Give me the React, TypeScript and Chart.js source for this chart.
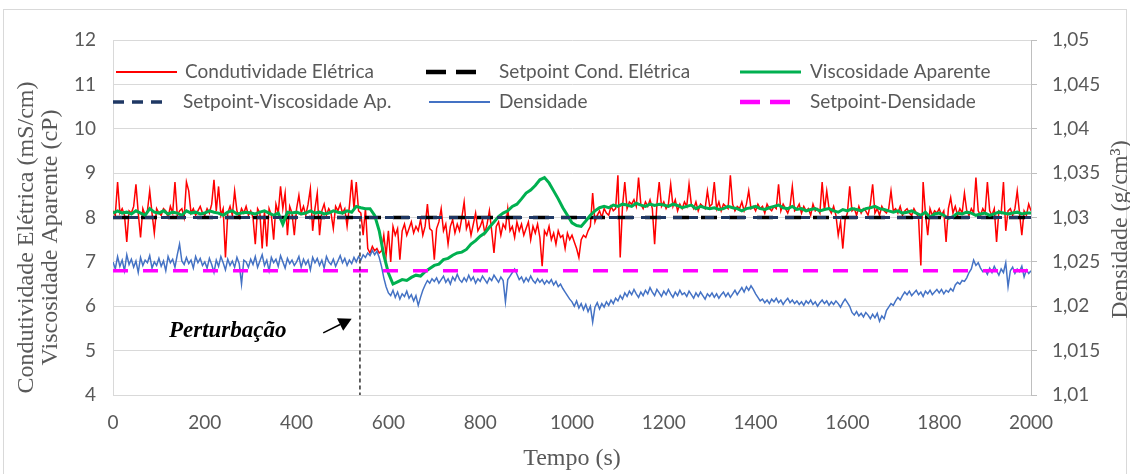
import React, { useEffect, useRef } from "react";
import { Chart, registerables } from "chart.js";

Chart.register(...registerables);

// ---------------- data ----------------
const tempoPassoRapido = 5; // s between samples (condutividade, densidade)
const tempoPassoLento = 10; // s between samples (viscosidade)
const tempoMin = 0;
const tempoMax = 2000;
const tempoPasso = 200;

const eixoEsqMin = 4;
const eixoEsqMax = 12;
const eixoEsqPasso = 1;
const eixoDirMin = 1.01;
const eixoDirMax = 1.05;
const eixoDirPasso = 0.005;

// Condutividade Elétrica (mS/cm), every 5 s from 0 to 2000 s
const condutividade = [
  8.15, 8.05, 8.8, 8.1, 8.2, 8.05, 7.45, 8.15, 8.1, 8.25, 8.75, 8.1, 7.55, 8.2, 8.05, 8.15, 8.6, 8.1, 7.65, 8.2,
  8.1, 8.05, 8.2, 8.15, 8.0, 8.25, 8.1, 8.8, 8.05, 8.15, 8.2, 8.0, 8.8, 8.6, 8.1, 8.2, 8.05, 8.15, 8.25, 8.1,
  8.05, 8.2, 8.1, 8.3, 8.85, 8.15, 8.7, 8.05, 8.2, 7.1, 8.1, 8.25, 8.05, 8.6, 8.15, 8.0, 8.2, 8.1, 8.25, 8.05,
  8.15, 8.0, 7.4, 8.2, 8.1, 7.3, 8.15, 7.35, 8.2, 8.05, 7.5, 8.3, 8.1, 8.7, 8.2, 8.55, 7.6, 8.25, 8.1, 7.6,
  8.2, 8.5, 8.1, 8.25, 8.05, 8.3, 8.65, 7.7, 8.2, 8.55, 7.6, 8.15, 8.3, 8.05, 8.2, 8.1, 7.75, 8.25, 8.15, 8.3,
  8.1, 8.2, 7.8, 8.25, 8.85, 8.2, 8.8, 8.15, 8.1, 7.6, 8.2, 7.3, 7.2, 7.35, 7.25, 7.3, 7.2, 7.25, 7.6, 7.15,
  7.7, 7.0, 7.8, 7.6, 7.75, 7.05, 7.7, 7.85, 7.6, 7.75, 7.9, 7.65, 7.8, 7.7, 7.95, 7.6, 7.8, 8.3, 7.75, 7.7,
  7.05, 7.75, 7.9, 8.2, 7.7, 7.85, 7.4, 7.8, 7.95, 7.65, 7.85, 7.7, 8.0, 8.35, 7.75, 7.9, 7.6, 7.85, 8.1, 7.7,
  7.8, 7.95, 7.65, 7.85, 8.15, 7.7, 7.2, 7.8, 7.9, 7.6, 7.85, 7.75, 8.2, 7.7, 7.8, 7.55, 7.9, 7.7, 7.85, 7.6,
  7.75, 7.9, 7.5, 7.8, 7.65, 7.85, 7.55, 6.9, 7.7, 7.6, 7.8, 7.5, 7.65, 7.4, 7.7, 7.55, 7.6, 7.3, 7.65, 7.5,
  7.6, 7.45, 7.3, 7.1, 7.5, 7.6, 7.55, 7.7, 7.8, 8.55, 7.9, 8.05, 8.15, 8.0, 8.2, 8.1, 8.05, 8.25, 8.15, 8.2,
  8.95, 7.1, 8.25, 8.8, 8.2, 8.35, 8.3, 8.4, 8.25, 8.9, 8.3, 8.2, 8.35, 8.25, 8.4, 8.2, 7.4, 8.3, 8.8, 8.25,
  8.35, 8.2, 8.3, 8.75, 8.25, 8.4, 8.15, 8.3, 8.2, 8.35, 8.25, 8.75, 8.3, 8.2, 8.35, 8.15, 8.3, 8.25, 8.2, 8.6,
  8.25, 8.3, 8.8, 8.2, 8.35, 8.15, 8.3, 8.25, 8.2, 8.95, 8.3, 8.15, 8.25, 8.2, 8.35, 8.15, 8.3, 8.6, 8.2, 8.25,
  8.15, 8.3, 8.2, 8.25, 8.1, 8.3, 8.2, 8.15, 8.25, 8.2, 8.75, 8.15, 8.3, 8.2, 8.1, 8.25, 8.7, 8.15, 8.2, 8.3,
  8.1, 8.25, 8.15, 8.2, 8.05, 8.3, 8.15, 8.2, 8.1, 8.8, 8.15, 8.6, 8.2, 8.1, 8.25, 8.05, 7.6, 7.9, 7.3, 7.95,
  8.1, 8.7, 8.15, 8.2, 8.05, 8.25, 8.1, 8.2, 8.15, 8.05, 8.3, 8.75, 8.1, 8.2, 8.05, 8.25, 8.15, 8.1, 8.2, 8.6,
  8.15, 8.2, 8.1, 8.25, 8.05, 8.15, 8.2, 8.1, 8.05, 8.2, 8.1, 8.0, 6.92, 8.8, 8.1, 7.6, 8.2, 8.05, 8.15, 8.1,
  8.2, 8.05, 8.15, 7.45, 8.2, 8.45, 8.1, 8.25, 8.05, 8.2, 8.1, 8.55, 8.15, 8.05, 8.2, 8.1, 8.9, 8.15, 8.05, 8.2,
  8.1, 8.8, 8.15, 8.05, 8.2, 7.45, 8.15, 8.1, 8.8, 7.7, 8.15, 8.2, 8.05, 8.2, 8.6, 8.1, 7.6, 8.15, 8.05, 8.3, 8.15,
];

// Viscosidade Aparente (cP), every 10 s from 0 to 2000 s
const viscosidade = [
  8.1, 8.15, 8.1, 8.12, 8.08, 8.15, 8.1, 8.05, 8.2, 8.12,
  8.1, 8.15, 8.08, 8.12, 8.1, 8.05, 8.15, 8.1, 8.12, 8.08,
  8.1, 8.15, 8.12, 8.1, 8.05, 8.12, 8.15, 8.08, 8.1, 8.12,
  8.1, 8.08, 8.12, 8.15, 8.1, 8.05, 8.1, 7.85, 8.12, 8.1,
  8.12, 8.08, 8.1, 8.15, 8.1, 8.12, 8.08, 8.1, 8.15, 8.12,
  8.1, 8.15, 8.12, 8.25, 8.22, 8.2, 8.2, 8.05, 7.7, 7.15,
  6.75, 6.5, 6.55, 6.6, 6.58, 6.65, 6.7, 6.68, 6.78, 6.85,
  6.92, 6.95, 7.05, 7.08, 7.15, 7.2, 7.22, 7.28, 7.4, 7.48,
  7.58, 7.65, 7.78, 7.9, 8.02, 8.1, 8.15, 8.25, 8.3, 8.42,
  8.55, 8.62, 8.72, 8.85, 8.9, 8.78, 8.6, 8.42, 8.22, 8.05,
  7.88, 7.82, 7.8, 7.92, 8.05, 8.15, 8.22, 8.25, 8.22, 8.28,
  8.25, 8.3, 8.28, 8.25, 8.32, 8.28, 8.25, 8.3, 8.27, 8.3,
  8.28, 8.25, 8.3, 8.27, 8.22, 8.25, 8.28, 8.2, 8.25, 8.22,
  8.2, 8.22, 8.18, 8.2, 8.25, 8.22, 8.2, 8.15, 8.2, 8.22,
  8.25, 8.2, 8.18, 8.22, 8.25, 8.28, 8.22, 8.2, 8.25, 8.18,
  8.2, 8.15, 8.18, 8.2, 8.15, 8.18, 8.2, 8.15, 8.12, 8.18,
  8.15, 8.2, 8.18, 8.15, 8.2, 8.22, 8.25, 8.2, 8.18, 8.15,
  8.12, 8.15, 8.1, 8.12, 8.15, 8.1, 8.05, 8.12, 8.0, 8.08,
  8.1, 8.05, 7.98, 8.02, 8.1, 8.08, 8.12, 8.1, 8.05, 8.08,
  8.1, 8.05, 8.08, 8.12, 8.1, 8.08, 8.1, 8.12, 8.08, 8.1, 8.1,
];

// Densidade (g/cm³), every 5 s from 0 to 2000 s
const densidade = [
  1.0250, 1.0242, 1.0256, 1.0245, 1.0252, 1.0240, 1.0258, 1.0247, 1.0253, 1.0244, 1.0251, 1.0238, 1.0255, 1.0246, 1.0252, 1.0249, 1.0257, 1.0243, 1.0250, 1.0246,
  1.0254, 1.0245, 1.0251, 1.0240, 1.0256, 1.0249, 1.0253, 1.0244, 1.0258, 1.0270, 1.0251, 1.0247, 1.0255, 1.0248, 1.0252, 1.0243, 1.0256, 1.0249, 1.0254, 1.0246,
  1.0250, 1.0243, 1.0254, 1.0247, 1.0238, 1.0252, 1.0245, 1.0256, 1.0249, 1.0241, 1.0253, 1.0246, 1.0251, 1.0244, 1.0255, 1.0248, 1.0225, 1.0252, 1.0250, 1.0244,
  1.0253, 1.0247, 1.0256, 1.0244, 1.0251, 1.0258, 1.0246, 1.0252, 1.0240, 1.0255, 1.0249, 1.0253, 1.0245, 1.0257, 1.0250, 1.0243, 1.0254, 1.0248, 1.0252, 1.0246,
  1.0250, 1.0256, 1.0244, 1.0253, 1.0247, 1.0252, 1.0241, 1.0255, 1.0249, 1.0254, 1.0246, 1.0252, 1.0243, 1.0256, 1.0250, 1.0247, 1.0253, 1.0245, 1.0251, 1.0257,
  1.0249, 1.0254, 1.0246, 1.0252, 1.0248, 1.0255, 1.0250, 1.0256, 1.0252, 1.0258, 1.0255, 1.0260, 1.0257, 1.0263, 1.0258, 1.0262, 1.0255, 1.0245, 1.0232, 1.0222,
  1.0215, 1.0212, 1.0218, 1.0210, 1.0216, 1.0208, 1.0214, 1.0211, 1.0217, 1.0209, 1.0213, 1.0206, 1.0212, 1.0201, 1.0210, 1.0218, 1.0224, 1.0229, 1.0226, 1.0231,
  1.0228, 1.0232, 1.0226, 1.0230, 1.0234, 1.0227, 1.0231, 1.0225, 1.0233, 1.0229, 1.0236, 1.0230, 1.0227, 1.0232, 1.0228, 1.0235, 1.0229, 1.0233, 1.0226, 1.0231,
  1.0228, 1.0234, 1.0230, 1.0226, 1.0232, 1.0229, 1.0235, 1.0231, 1.0227, 1.0233, 1.0229, 1.0205, 1.0230, 1.0234, 1.0238, 1.0242, 1.0236, 1.0230, 1.0233, 1.0227,
  1.0232, 1.0228, 1.0234, 1.0229, 1.0226, 1.0231, 1.0227, 1.0230, 1.0225, 1.0229, 1.0226, 1.0230, 1.0224, 1.0228, 1.0222, 1.0225, 1.0220, 1.0216, 1.0212, 1.0208,
  1.0205, 1.0200, 1.0206, 1.0198, 1.0203, 1.0196, 1.0202, 1.0194, 1.0200, 1.0182, 1.0199, 1.0204, 1.0197, 1.0203, 1.0199, 1.0205, 1.0201, 1.0207, 1.0203, 1.0209,
  1.0206, 1.0212, 1.0208, 1.0215, 1.0211, 1.0217, 1.0213, 1.0219, 1.0214, 1.0210, 1.0216, 1.0212, 1.0218, 1.0214, 1.0221, 1.0216, 1.0212, 1.0219, 1.0215, 1.0211,
  1.0217, 1.0213, 1.0219, 1.0214, 1.0210, 1.0216, 1.0212, 1.0218, 1.0213, 1.0215, 1.0211, 1.0217, 1.0213, 1.0209, 1.0215, 1.0211, 1.0216, 1.0212, 1.0208, 1.0214,
  1.0211, 1.0215, 1.0210, 1.0214, 1.0209, 1.0213, 1.0216, 1.0211, 1.0215, 1.0210, 1.0214, 1.0218, 1.0213, 1.0217, 1.0221, 1.0216, 1.0222, 1.0218, 1.0223, 1.0219,
  1.0214, 1.0210, 1.0206, 1.0208, 1.0204, 1.0207, 1.0203, 1.0208, 1.0205, 1.0209, 1.0204, 1.0207, 1.0202, 1.0206, 1.0209, 1.0204, 1.0207, 1.0203, 1.0206, 1.0202,
  1.0205, 1.0201, 1.0206, 1.0203, 1.0207, 1.0202, 1.0205, 1.0200, 1.0204, 1.0207, 1.0203, 1.0206, 1.0201, 1.0205, 1.0202, 1.0206, 1.0203, 1.0199, 1.0204, 1.0208,
  1.0204, 1.0200, 1.0193, 1.0190, 1.0194, 1.0189, 1.0192, 1.0188, 1.0193, 1.0190, 1.0186, 1.0191, 1.0187, 1.0192, 1.0183, 1.0189, 1.0186, 1.0195, 1.0199, 1.0203,
  1.0201, 1.0206, 1.0210, 1.0207, 1.0212, 1.0216, 1.0213, 1.0217, 1.0212, 1.0215, 1.0218, 1.0213, 1.0216, 1.0211, 1.0217, 1.0214, 1.0218, 1.0213, 1.0216, 1.0219,
  1.0215, 1.0219, 1.0214, 1.0218, 1.0216, 1.0220, 1.0217, 1.0224, 1.0227, 1.0225, 1.0229, 1.0228, 1.0232, 1.0238, 1.0242, 1.0252, 1.0246, 1.0249, 1.0243, 1.0239,
  1.0241, 1.0236, 1.0243, 1.0238, 1.0245, 1.0240, 1.0235, 1.0242, 1.0238, 1.0249, 1.0222, 1.0240, 1.0244, 1.0237, 1.0242, 1.0239, 1.0245, 1.0233, 1.0241, 1.0237, 1.0240,
];

const setpointCondutividade = 8.0;
const setpointViscosidade = 8.0;
const setpointDensidade = 1.024;

const perturbacaoTempo = 538;
const perturbacaoFaixa = [8.0, 4.0];
const perturbacaoTexto = "Perturbação";
const perturbacaoTextoPos = { t: 250, v: 5.45 };
const perturbacaoSetaInicio = { t: 458, v: 5.4 };
const perturbacaoSetaFim = { t: 520, v: 5.72 };

const nomesSeries = [
  "Condutividade Elétrica",
  "Setpoint Cond. Elétrica",
  "Viscosidade Aparente",
  "Setpoint-Viscosidade Ap.",
  "Densidade",
  "Setpoint-Densidade",
];
const tituloEsq1 = "Condutividade Elétrica (mS/cm)";
const tituloEsq2 = "Viscosidade Aparente (cP)";
const tituloDir = "Densidade (g/cm³)";
const tituloX = "Tempo (s)";

// ---------------- styles ----------------
const COR_TEXTO = "#595959";
const COR_GRADE = "#d9d9d9";
const FONTE_SANS = "Lato, 'Open Sans', sans-serif";
const FONTE_SERIF = "'Liberation Serif', 'DejaVu Serif', serif";

const estilos = [
  { color: "#FF0000", width: 1.5, dash: [] as number[], legendWidth: 2, legendDash: [] as number[] },
  { color: "#000000", width: 3.5, dash: [16, 12], legendWidth: 4.5, legendDash: [20, 10] },
  { color: "#00B050", width: 3, dash: [] as number[], legendWidth: 3, legendDash: [] as number[] },
  { color: "#1F3864", width: 3, dash: [9, 7], legendWidth: 3.5, legendDash: [11, 8] },
  { color: "#4472C4", width: 1.5, dash: [] as number[], legendWidth: 2, legendDash: [] as number[] },
  { color: "#FF00FF", width: 3.5, dash: [15, 15], legendWidth: 4.5, legendDash: [20, 10] },
];

// legend layout: [sampleStart, sampleEnd, textX, row]
const legendaLayout = [
  [116, 177, 185, 0],
  [426, 476, 499, 0],
  [740, 801, 810, 0],
  [113, 162, 183, 1],
  [429, 490, 499, 1],
  [740, 790, 810, 1],
];

function pontos(valores: number[], passo: number) {
  return valores.map((v, i) => ({ x: tempoMin + i * passo, y: v }));
}
function linhaConstante(v: number) {
  return [
    { x: tempoMin, y: v },
    { x: tempoMax, y: v },
  ];
}

const decorPlugin = {
  id: "decor",
  beforeDraw(chart: any) {
    const { ctx, width, height } = chart;
    ctx.save();
    ctx.fillStyle = "#ffffff";
    ctx.fillRect(0, 0, width, height);
    ctx.strokeStyle = COR_GRADE;
    ctx.lineWidth = 1;
    ctx.strokeRect(3.5, 9.5, width - 7, height);
    ctx.restore();
  },
  afterDraw(chart: any) {
    const { ctx, chartArea: a, scales } = chart;
    const xs = scales.x;
    const ys = scales.y;
    ctx.save();

    // axis titles
    ctx.fillStyle = COR_TEXTO;
    ctx.textAlign = "center";
    ctx.textBaseline = "middle";
    ctx.font = `24px ${FONTE_SERIF}`;
    const midY = (a.top + a.bottom) / 2 + 20;
    ctx.save();
    ctx.translate(27, midY);
    ctx.rotate(-Math.PI / 2);
    ctx.fillText(tituloEsq1, 0, 0);
    ctx.restore();
    ctx.save();
    ctx.translate(51, midY);
    ctx.rotate(-Math.PI / 2);
    ctx.fillText(tituloEsq2, 0, 0);
    ctx.restore();
    ctx.save();
    ctx.translate(1121, (a.top + a.bottom) / 2 + 12);
    ctx.rotate(-Math.PI / 2);
    ctx.fillText(tituloDir, 0, 0);
    ctx.restore();
    ctx.fillText(tituloX, (a.left + a.right) / 2, 459);

    // legend
    ctx.font = `19px ${FONTE_SANS}`;
    ctx.textAlign = "left";
    nomesSeries.forEach((nome, i) => {
      const [x1, x2, tx, row] = legendaLayout[i];
      const y = a.top + 32 + row * 30;
      const st = estilos[i];
      ctx.save();
      ctx.strokeStyle = st.color;
      ctx.lineWidth = st.legendWidth;
      ctx.setLineDash(st.legendDash);
      ctx.beginPath();
      ctx.moveTo(x1, y);
      ctx.lineTo(x2, y);
      ctx.stroke();
      ctx.restore();
      ctx.fillStyle = COR_TEXTO;
      ctx.fillText(nome, tx, y);
    });

    // annotation
    ctx.fillStyle = "#000000";
    ctx.font = `italic bold 23px ${FONTE_SERIF}`;
    ctx.textAlign = "center";
    ctx.fillText(
      perturbacaoTexto,
      xs.getPixelForValue(perturbacaoTextoPos.t),
      ys.getPixelForValue(perturbacaoTextoPos.v)
    );
    const x0 = xs.getPixelForValue(perturbacaoSetaInicio.t);
    const y0 = ys.getPixelForValue(perturbacaoSetaInicio.v);
    const x1 = xs.getPixelForValue(perturbacaoSetaFim.t);
    const y1 = ys.getPixelForValue(perturbacaoSetaFim.v);
    const ang = Math.atan2(y1 - y0, x1 - x0);
    const head = 13;
    const hw = 7;
    const bx = x1 - head * Math.cos(ang);
    const by = y1 - head * Math.sin(ang);
    ctx.strokeStyle = "#000000";
    ctx.lineWidth = 1.5;
    ctx.beginPath();
    ctx.moveTo(x0, y0);
    ctx.lineTo(bx, by);
    ctx.stroke();
    ctx.beginPath();
    ctx.moveTo(x1, y1);
    ctx.lineTo(bx + hw * Math.sin(ang), by - hw * Math.cos(ang));
    ctx.lineTo(bx - hw * Math.sin(ang), by + hw * Math.cos(ang));
    ctx.closePath();
    ctx.fill();

    ctx.restore();
  },
};

export default function App() {
  const ref = useRef<HTMLCanvasElement | null>(null);

  useEffect(() => {
    document.body.style.margin = "0";
    const canvas = ref.current;
    if (!canvas) return;

    const valores = [
      { data: pontos(condutividade, tempoPassoRapido), yAxisID: "y" },
      { data: linhaConstante(setpointCondutividade), yAxisID: "y" },
      { data: pontos(viscosidade, tempoPassoLento), yAxisID: "y" },
      { data: linhaConstante(setpointViscosidade), yAxisID: "y" },
      { data: pontos(densidade, tempoPassoRapido), yAxisID: "y2" },
      { data: linhaConstante(setpointDensidade), yAxisID: "y2" },
    ];

    const datasets: any[] = valores.map((d, i) => ({
      label: nomesSeries[i],
      data: d.data,
      yAxisID: d.yAxisID,
      borderColor: estilos[i].color,
      borderWidth: estilos[i].width,
      borderDash: estilos[i].dash,
      pointRadius: 0,
      tension: 0,
      fill: false,
      order: 6 - i,
    }));
    datasets.push({
      label: "perturbacao",
      data: perturbacaoFaixa.map((v) => ({ x: perturbacaoTempo, y: v })),
      yAxisID: "y",
      borderColor: "#303030",
      borderWidth: 1.5,
      borderDash: [4, 3],
      pointRadius: 0,
      fill: false,
      order: 0,
    });

    const chart = new Chart(canvas, {
      type: "line",
      data: { datasets },
      options: {
        animation: false,
        responsive: false,
        devicePixelRatio: 1,
        layout: { padding: { top: 40, left: 0, right: 0, bottom: 0 } },
        plugins: {
          legend: { display: false },
          tooltip: { enabled: false },
        },
        scales: {
          x: {
            type: "linear",
            min: tempoMin,
            max: tempoMax,
            ticks: {
              stepSize: tempoPasso,
              color: COR_TEXTO,
              font: { family: FONTE_SANS, size: 19 },
              padding: 16,
              maxRotation: 0,
              autoSkip: false,
              callback: (v: any) => String(v),
            },
            grid: { display: false, drawTicks: false },
            border: { display: true, color: COR_GRADE, width: 1 },
            afterFit: (s: any) => {
              s.height = 79;
            },
          },
          y: {
            position: "left",
            min: eixoEsqMin,
            max: eixoEsqMax,
            ticks: {
              stepSize: eixoEsqPasso,
              color: COR_TEXTO,
              font: { family: FONTE_SANS, size: 19 },
              padding: 17,
              callback: (v: any) => String(v),
            },
            grid: { color: COR_GRADE, lineWidth: 1, drawTicks: false },
            border: { display: true, color: COR_GRADE, width: 1 },
            afterFit: (s: any) => {
              s.width = 113;
            },
          },
          y2: {
            position: "right",
            min: eixoDirMin,
            max: eixoDirMax,
            ticks: {
              stepSize: eixoDirPasso,
              color: COR_TEXTO,
              font: { family: FONTE_SANS, size: 19 },
              padding: 15,
              callback: (v: any) =>
                (Math.round(Number(v) * 1000) / 1000).toString().replace(".", ","),
            },
            grid: {
              drawOnChartArea: false,
              drawTicks: true,
              tickLength: 6,
              color: "#bfbfbf",
            },
            border: { display: true, color: "#bfbfbf", width: 1 },
            afterFit: (s: any) => {
              s.width = 99;
            },
          },
        },
      },
      plugins: [decorPlugin],
    });

    return () => chart.destroy();
  }, []);

  return (
    <div style={{ width: 1130, height: 474 }}>
      <canvas ref={ref} width={1130} height={474} style={{ display: "block" }} />
    </div>
  );
}
